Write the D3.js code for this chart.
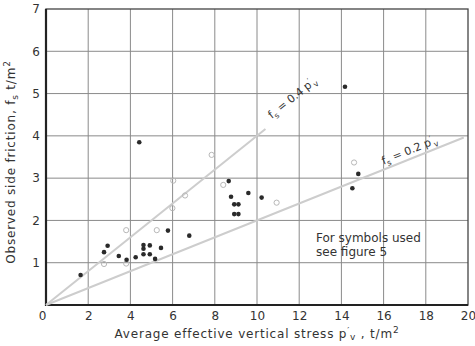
<!DOCTYPE html>
<html>
<head>
<meta charset="utf-8">
<script src="https://cdn.jsdelivr.net/npm/d3@7"></script>
<style>
  body { margin: 0; background: #fff; }
  svg text { font-family: "DejaVu Sans", sans-serif; fill: #333; }
</style>
</head>
<body>
<div id="chart"></div>
<script>
// solid points
const solidX = [1.64, 2.75, 2.92, 3.45, 3.82, 4.25, 4.62, 4.62, 4.62, 4.92, 4.92, 5.45, 5.17, 5.78, 6.79,
    8.66, 8.77, 8.92, 9.12, 8.92, 9.12, 9.59, 10.22, 4.42, 14.17, 14.8, 14.52];
const solidY = [0.71, 1.25, 1.4, 1.16, 1.07, 1.13, 1.42, 1.33, 1.2, 1.41, 1.2, 1.35, 1.09, 1.76, 1.64,
    2.93, 2.56, 2.38, 2.38, 2.15, 2.15, 2.65, 2.54, 3.85, 5.16, 3.1, 2.76];
// open (faint) points
const openX = [2.75, 3.8, 3.8, 5.25, 5.99, 6.03, 6.59, 7.85, 8.4, 10.93, 14.6];
const openY = [0.97, 0.98, 1.77, 1.77, 2.29, 2.94, 2.59, 3.55, 2.84, 2.42, 3.37];

const xTicks = [0, 2, 4, 6, 8, 10, 12, 14, 16, 18, 20];
const yTicks = [1, 2, 3, 4, 5, 6, 7];

// fs = k p'v lines
const lineK = [0.4, 0.2];
const lineEnd = [10.4, 19.8];
const lineLabelAt = [10.7, 16.0];
const lineLabelK = ["0.4", "0.2"];

const w = 475, h = 346;
const margin = { left: 46, right: 7, top: 9, bottom: 41 };

const svg = d3.select("#chart").append("svg")
    .attr("width", w)
    .attr("height", h);

const x = d3.scaleLinear().domain([0, 20]).range([margin.left, w - margin.right]);
const y = d3.scaleLinear().domain([0, 7]).range([h - margin.bottom, margin.top]);

// grid
svg.append("g").selectAll("line")
    .data(xTicks.slice(1, -1))
    .enter().append("line")
    .attr("x1", d => x(d)).attr("x2", d => x(d))
    .attr("y1", y(0)).attr("y2", y(7))
    .attr("stroke", "#8a8a8a").attr("stroke-width", 1);
svg.append("g").selectAll("line")
    .data(yTicks.slice(0, -1))
    .enter().append("line")
    .attr("x1", x(0)).attr("x2", x(20))
    .attr("y1", d => y(d)).attr("y2", d => y(d))
    .attr("stroke", "#8a8a8a").attr("stroke-width", 1);

// frame
svg.append("rect")
    .attr("x", x(0)).attr("y", y(7))
    .attr("width", x(20) - x(0)).attr("height", y(0) - y(7))
    .attr("fill", "none").attr("stroke", "#444").attr("stroke-width", 1.3);
svg.append("path")
    .attr("d", `M${x(0)},${y(7)}V${y(0)}H${x(20)}`)
    .attr("fill", "none").attr("stroke", "#222").attr("stroke-width", 2.2);

// axes labels
const xAxis = d3.axisBottom(x).tickValues(xTicks).tickFormat(d3.format("d")).tickSize(0).tickPadding(6);
const gx = svg.append("g").attr("transform", `translate(0,${y(0)})`).call(xAxis);
gx.select(".domain").remove();
gx.selectAll("text").style("font-size", "12px").attr("fill", "#333").attr("dy", "0.72em")
    .attr("dx", d => d === 0 ? -4 : 0);

const yAxis = d3.axisLeft(y).tickValues(yTicks).tickFormat(d3.format("d")).tickSize(0).tickPadding(6);
const gy = svg.append("g").attr("transform", `translate(${x(0)},0)`).call(yAxis);
gy.select(".domain").remove();
gy.selectAll("text").style("font-size", "12px").attr("fill", "#333");

// reference lines
lineK.forEach((k, i) => {
    svg.append("line")
        .attr("x1", x(0)).attr("y1", y(0))
        .attr("x2", x(lineEnd[i])).attr("y2", y(k * lineEnd[i]))
        .attr("stroke", "#cdcdcd").attr("stroke-width", 2);
    const lx = x(lineLabelAt[i]), ly = y(k * lineLabelAt[i]) - 5;
    const ang = Math.atan2(y(k) - y(0), x(1) - x(0)) * 180 / Math.PI;
    const t = svg.append("text")
        .attr("transform", `translate(${lx},${ly}) rotate(${ang})`)
        .style("font-size", "11px").attr("fill", "#555");
    t.append("tspan").text("f");
    t.append("tspan").attr("dy", 3).style("font-size", "8px").text("s");
    t.append("tspan").attr("dy", -3).text(" = " + lineLabelK[i] + " p");
    t.append("tspan").attr("dy", -4).style("font-size", "8px").text("′");
    t.append("tspan").attr("dy", 7).style("font-size", "8px").text("v");
});

// points
svg.append("g").selectAll("circle")
    .data(openX.map((d, i) => [d, openY[i]]))
    .enter().append("circle")
    .attr("cx", d => x(d[0])).attr("cy", d => y(d[1]))
    .attr("r", 2.6)
    .attr("fill", "none").attr("stroke", "#b8b8b8").attr("stroke-width", 1);

svg.append("g").selectAll("circle")
    .data(solidX.map((d, i) => [d, solidY[i]]))
    .enter().append("circle")
    .attr("cx", d => x(d[0])).attr("cy", d => y(d[1]))
    .attr("r", 2.3)
    .attr("fill", "#2a2a2a");

// note
const note = svg.append("text").style("font-size", "12px").attr("fill", "#333");
note.append("tspan").attr("x", 316).attr("y", 242).text("For symbols used");
note.append("tspan").attr("x", 316).attr("y", 256).text("see figure 5");

// x title
const xt = svg.append("text")
    .attr("x", (x(0) + x(20)) / 2).attr("y", 338)
    .attr("text-anchor", "middle")
    .style("font-size", "12px").style("letter-spacing", "0.8px");
xt.append("tspan").text("Average effective vertical stress p");
xt.append("tspan").attr("dy", -4).style("font-size", "9px").text("′");
xt.append("tspan").attr("dy", 6).style("font-size", "9px").text("v");
xt.append("tspan").attr("dy", -2).text(" , t/m");
xt.append("tspan").attr("dy", -5).style("font-size", "9px").text("2");

// y title
const yt = svg.append("text")
    .attr("transform", `translate(15,${(y(0) + y(7)) / 2 + 5}) rotate(-90)`)
    .attr("text-anchor", "middle")
    .style("font-size", "12px").style("letter-spacing", "0.8px");
yt.append("tspan").text("Observed side friction, f");
yt.append("tspan").attr("dy", 3).style("font-size", "9px").text("s");
yt.append("tspan").attr("dy", -3).text(" t/m");
yt.append("tspan").attr("dy", -5).style("font-size", "9px").text("2");
</script>
</body>
</html>
